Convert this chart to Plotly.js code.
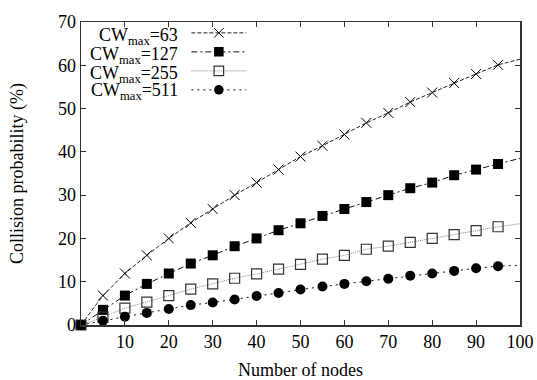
<!DOCTYPE html>
<html>
<head>
<meta charset="utf-8">
<script src="https://cdn.plot.ly/plotly-3.0.1.min.js"></script>
<style>html,body{margin:0;padding:0;background:#fff;}#chart{width:537px;height:380px;}</style>
</head>
<body>
<div id="chart"></div>
<script>
// Number of nodes at which markers are drawn
var nodes = [0,5,10,15,20,25,30,35,40,45,50,55,60,65,70,75,80,85,90,95];
// End of the curves (right edge of the plot)
var nodesEnd = 100;
// Collision probability (%) per CWmax
var cw63  = [0,6.8,11.9,16.1,20.0,23.6,26.8,30.0,32.9,35.9,38.9,41.4,44.0,46.7,49.0,51.5,53.7,55.9,58.0,60.1];
var cw127 = [0,3.5,6.8,9.5,11.9,14.2,16.1,18.2,20.0,21.9,23.5,25.2,26.8,28.4,30.0,31.6,32.9,34.6,35.9,37.2];
var cw255 = [0,1.8,3.9,5.3,6.8,8.3,9.5,10.8,11.8,12.9,14.0,15.2,16.1,17.5,18.2,19.1,20.0,20.9,21.8,22.7];
var cw511 = [0,1.0,1.9,2.8,3.7,4.6,5.2,5.9,6.7,7.4,8.2,8.9,9.5,10.1,10.7,11.4,11.9,12.5,13.1,13.6];
// Curve values at the right edge
var endValues = [61.4, 38.5, 23.4, 13.8];
var labels = ['CW<sub>max</sub>=63','CW<sub>max</sub>=127','CW<sub>max</sub>=255','CW<sub>max</sub>=511'];
var xTicks = [10,20,30,40,50,60,70,80,90,100];

var series = [cw63, cw127, cw255, cw511];
var styles = [
  {symbol:'x-thin-open', size:10, dash:'4px,2px', lcolor:'#222', mline:{color:'#000', width:1}, mcolor:'#000'},
  {symbol:'square', size:10, dash:'6px,3px,2px,3px', lcolor:'#111', mline:{color:'#000', width:0}, mcolor:'#000'},
  {symbol:'square-open', size:10, dash:'1px,1px', lcolor:'#888', mline:{color:'#333', width:1.2}, mcolor:'#333'},
  {symbol:'circle', size:10, dash:'2px,4px', lcolor:'#111', mline:{color:'#000', width:0}, mcolor:'#000'}
];

var traces = series.map(function(vals, i) {
  var s = styles[i];
  var sizes = vals.map(function(){ return s.size; });
  sizes.push(0);
  return {
    x: nodes.concat([nodesEnd]),
    y: vals.concat([endValues[i]]),
    type: 'scatter',
    mode: 'lines+markers',
    name: ' ',
    line: {color: s.lcolor, width: 1, dash: s.dash},
    marker: {symbol: s.symbol, size: sizes, color: s.mcolor, opacity: 1, line: s.mline},
    cliponaxis: false
  };
});

var font = 'Liberation Serif';
var rowsY = [0.952, 0.888, 0.828, 0.769];
var annotations = labels.map(function(t, i) {
  return {xref:'paper', yref:'paper', x:0.2255, y:rowsY[i], xanchor:'right', yanchor:'middle',
          text:t, showarrow:false, font:{family:font, size:18, color:'#000'}};
});

var layout = {
  width: 537, height: 380,
  margin: {l:81, r:17, t:15, b:55},
  paper_bgcolor: '#fff', plot_bgcolor: '#fff',
  font: {family: font, size: 18, color: '#000'},
  showlegend: true,
  legend: {x:0.24, y:1.012, xanchor:'left', yanchor:'top', bgcolor:'rgba(0,0,0,0)',
           font:{family:font, size:12}, itemwidth:55, tracegroupgap:0},
  xaxis: {range:[0,100], tickvals:xTicks, ticks:'inside', ticklen:5, tickcolor:'#333',
          showline:true, linecolor:'#333', linewidth:1.5, mirror:'ticks', showgrid:false, zeroline:false,
          title:{text:'Number of nodes', font:{family:font, size:18}}, tickfont:{family:font, size:18}},
  yaxis: {range:[0,70], dtick:10, ticks:'inside', ticklen:5, tickcolor:'#333',
          showline:true, linecolor:'#333', linewidth:1.5, mirror:'ticks', showgrid:false, zeroline:false,
          automargin:true,
          title:{text:'Collision probability (%)', standoff:29, font:{family:font, size:18}}, tickfont:{family:font, size:18}},
  annotations: annotations
};

Plotly.newPlot('chart', traces, layout, {displayModeBar:false, staticPlot:true});
</script>
</body>
</html>
